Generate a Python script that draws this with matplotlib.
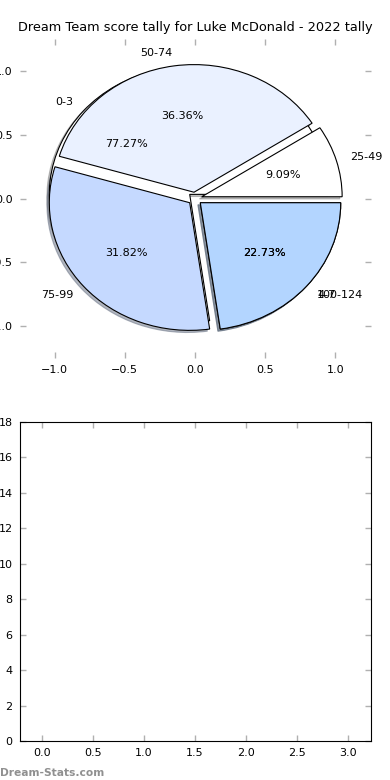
import matplotlib
matplotlib.use('Agg')
import matplotlib.pyplot as plt
import numpy as np

# data
title = 'Dream Team score tally for Luke McDonald - 2022 tally'
back_labels = ['0-3', '4-7']
back_counts = [17, 5]
score_labels = ['25-49', '50-74', '75-99', '100-124']
score_counts = [2, 8, 7, 5]
colours = ['#ffffff', '#eaf1ff', '#c5d9ff', '#b3d5ff']


def style_ticks(ax):
    ax.tick_params(direction='in', top=True, right=True, length=4,
                   width=1, color='#b0b0b0', labelsize=8, pad=5)


def main():
    plt.rcParams['font.family'] = 'DejaVu Sans'
    fig, (ax1, ax2) = plt.subplots(2, 1, figsize=(3.9, 7.8), dpi=100)
    fig.subplots_adjust(left=0.05, right=0.95, top=0.95, bottom=0.05,
                        hspace=0.2)

    shadow = {'ox': -0.012, 'oy': -0.012, 'shade': 0.5}
    # two pies drawn on the same axes, the second covers the first
    ax1.pie(back_counts, labels=back_labels, colors=colours[:2],
            explode=[0.05] * len(back_counts), shadow=shadow,
            autopct='%1.2f%%', textprops={'fontsize': 8},
            wedgeprops={'linewidth': 0.8, 'edgecolor': 'black'})
    ax1.pie(score_counts, labels=score_labels, colors=colours,
            explode=[0.05] * len(score_counts), shadow=shadow,
            autopct='%1.2f%%', textprops={'fontsize': 8},
            wedgeprops={'linewidth': 0.8, 'edgecolor': 'black'})
    ax1.set_aspect('auto')
    ax1.set_frame_on(False)
    ax1.set_xlim(-1.25, 1.25)
    ax1.set_ylim(-1.25, 1.25)
    ax1.set_xticks(np.arange(-1.0, 1.01, 0.5))
    ax1.set_yticks(np.arange(-1.0, 1.01, 0.5))
    style_ticks(ax1)
    ax1.set_title(title, fontsize=9.25)

    ax2.set_xlim(-0.22, 3.22)
    ax2.set_ylim(0, 18)
    ax2.set_xticks(np.arange(0, 3.01, 0.5))
    ax2.set_yticks(np.arange(0, 19, 2))
    style_ticks(ax2)

    fig.text(0.0, 0.005, 'Dream-Stats.com', color='#909090', fontsize=7.7,
             fontweight='bold')
    plt.savefig('out.png')


if __name__ == '__main__':
    main()
